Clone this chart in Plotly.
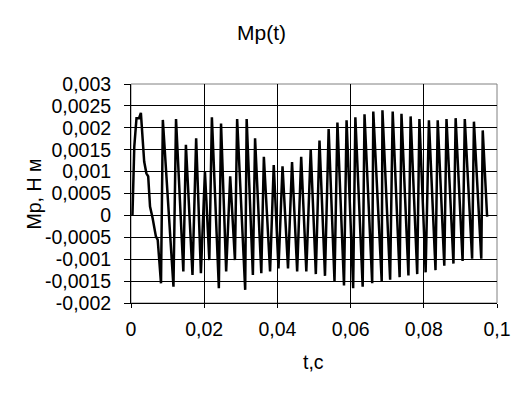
import plotly.graph_objects as go

# time, s
t = [0.0004, 0.0009, 0.0015, 0.0022, 0.0027, 0.0036, 0.0042, 0.0047, 0.0052, 0.0059,
     0.0068, 0.0073, 0.0082, 0.0087, 0.0116, 0.0123, 0.0143, 0.0150, 0.0168, 0.0178,
     0.0191, 0.0202, 0.0214, 0.0221, 0.0240, 0.0246, 0.0260, 0.0271, 0.0284, 0.0290,
     0.0312, 0.0316, 0.0333, 0.0339, 0.0356, 0.0363, 0.0380, 0.0390, 0.0403, 0.0414,
     0.0429, 0.0440, 0.0454, 0.0465, 0.0479, 0.0491, 0.0505, 0.0515, 0.0530, 0.0540,
     0.0556, 0.0564, 0.0582, 0.0589, 0.0607, 0.0613, 0.0633, 0.0638, 0.0659, 0.0662,
     0.0685, 0.0687, 0.0708, 0.0715, 0.0734, 0.0739, 0.0758, 0.0764, 0.0782, 0.0788,
     0.0805, 0.0814, 0.0832, 0.0838, 0.0856, 0.0862, 0.0881, 0.0887, 0.0906, 0.0912,
     0.0932, 0.0937, 0.0957, 0.0961, 0.0973]

# Mp, N*m
mp = [0.0, 0.00157, 0.00222, 0.00222, 0.00234, 0.00123, 0.00096, 0.00089, 0.0002, -0.00006,
      -0.00048, -0.00056, -0.00155, 0.00218, -0.00163, 0.0022, -0.00128, 0.00161, -0.00136, 0.00176,
      -0.00132, 0.0010, -0.00102, 0.00224, -0.00166, 0.0021, -0.00128, 0.00089, -0.00102, 0.0022,
      -0.0017, 0.0022, -0.00136, 0.00176, -0.00132, 0.00134, -0.00128, 0.00115, -0.00121, 0.00112,
      -0.00121, 0.00122, -0.00128, 0.00134, -0.00128, 0.00151, -0.00134, 0.00171, -0.00138, 0.00197,
      -0.00151, 0.00212, -0.0016, 0.00217, -0.00166, 0.00224, -0.00163, 0.00231, -0.00155, 0.00237,
      -0.00151, 0.0024, -0.00147, 0.00237, -0.00141, 0.00232, -0.00137, 0.00226, -0.00134, 0.0022,
      -0.0013, 0.00217, -0.00125, 0.00217, -0.00115, 0.0022, -0.0011, 0.00222, -0.00104, 0.0022,
      -0.00099, 0.00214, -0.00099, 0.00194, -0.00003]

y_ticks = [0.003, 0.0025, 0.002, 0.0015, 0.001, 0.0005, 0, -0.0005, -0.001, -0.0015, -0.002]
y_labels = ["0,003", "0,0025", "0,002", "0,0015", "0,001", "0,0005", "0",
            "-0,0005", "-0,001", "-0,0015", "-0,002"]
x_ticks = [0, 0.02, 0.04, 0.06, 0.08, 0.1]
x_labels = ["0", "0,02", "0,04", "0,06", "0,08", "0,1"]

font = "Liberation Sans, Arial, sans-serif"

W, H = 522, 395
L, R, T, B = 123, 33, 76, 100
pw, ph = W - L - R, H - T - B

fig = go.Figure()
fig.add_trace(go.Scatter(x=t, y=mp, mode="lines",
                         line=dict(color="black", width=2.5), showlegend=False))

fig.update_layout(
    width=W, height=H,
    margin=dict(l=L, r=R, t=T, b=B, autoexpand=False),
    paper_bgcolor="white", plot_bgcolor="white",
    font=dict(family=font, size=19.5, color="black"),
    title=dict(text="Mp(t)", x=253.5 / W, xref="container", xanchor="center",
               y=1 - 25 / H, yanchor="middle",
               font=dict(size=21, family=font, color="black")),
    shapes=[dict(type="rect", xref="x domain", yref="y domain", x0=0, x1=1, y0=0, y1=1,
                 line=dict(color="#808080", width=1), layer="below")],
    annotations=[
        dict(text="t,c", xref="paper", yref="paper", x=(305 - L) / pw, y=-(354 - (H - B)) / ph,
             xanchor="center", yanchor="middle", showarrow=False, font=dict(size=19.5)),
        dict(text="Mp, Н м", xref="paper", yref="paper", x=(25 - L) / pw, y=0.5,
             xanchor="center", yanchor="middle", textangle=-90, showarrow=False,
             font=dict(size=19.5)),
    ],
)
fig.update_xaxes(range=[0, 0.1], tickvals=x_ticks, ticktext=x_labels,
                 showgrid=True, gridcolor="black", gridwidth=1,
                 showline=True, linecolor="black", linewidth=1, automargin=False,
                 ticks="outside", ticklen=4, tickcolor="black", zeroline=False,
                 ticklabelstandoff=5)
fig.update_yaxes(range=[-0.002, 0.003], tickvals=y_ticks, ticktext=y_labels,
                 showgrid=True, gridcolor="black", gridwidth=1,
                 showline=True, linecolor="black", linewidth=1, automargin=False,
                 ticks="outside", ticklen=6, tickcolor="black", zeroline=False,
                 ticklabelstandoff=9)

fig.write_html("out.html")
